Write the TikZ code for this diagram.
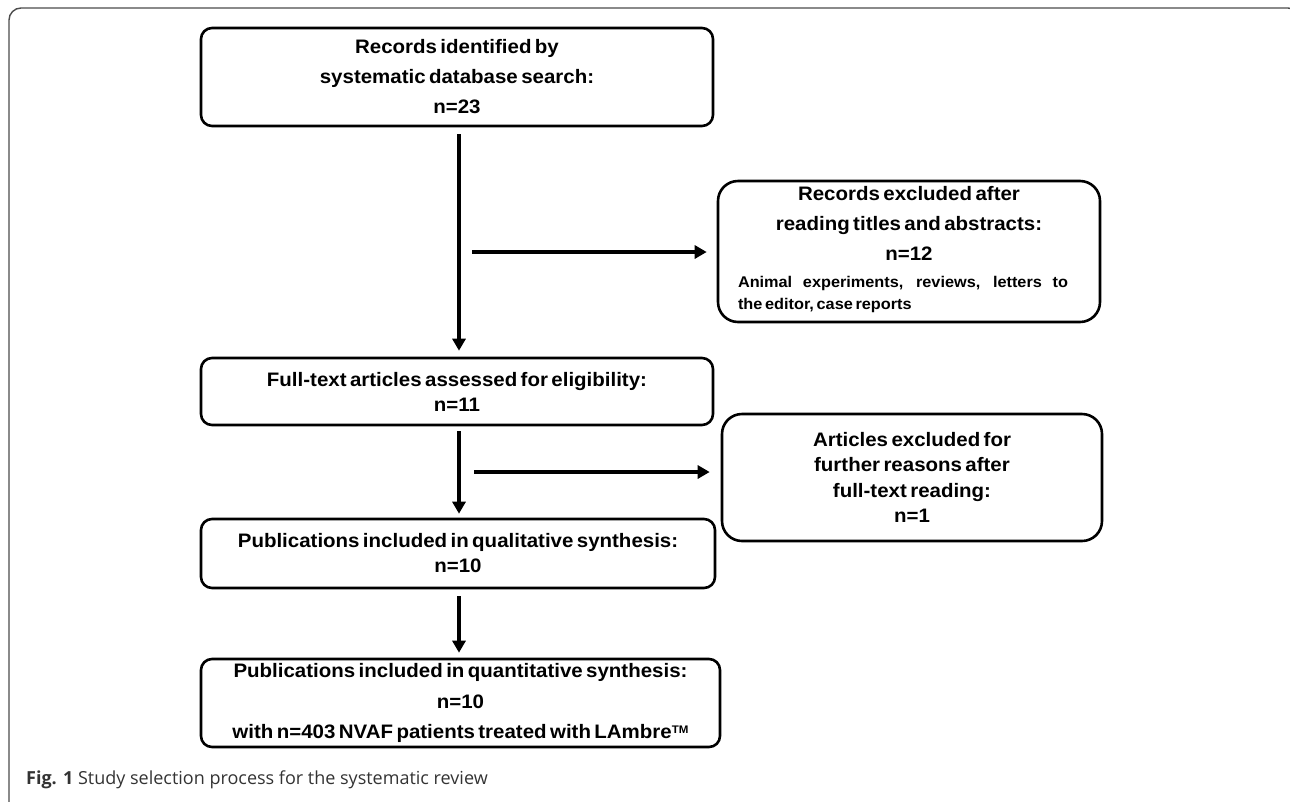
\documentclass[tikz,border=0pt]{standalone}
\usepackage{fontspec}
\setmainfont{Liberation Sans}
\newfontfamily\boxfont[FakeStretch=1.05,WordSpace=0.6]{Liberation Sans}
\newfontfamily\capfont{Open Sans}
\usetikzlibrary{arrows.meta}
\begin{document}
\begin{tikzpicture}[x=1pt,y=-1pt,
  box/.style={draw=black, line width=2.6pt, rounded corners=11pt, align=center, inner sep=0pt, fill=white},
  sidebox/.style={box, rounded corners=20pt},
  arr/.style={line width=3.8pt, -{Triangle[length=12pt,width=13pt]}},
  frame/.style={draw=black!70, line width=1.4pt, rounded corners=12pt},
  big/.style={font=\boxfont\bfseries\fontsize{19.5}{#1}\selectfont},
]
\useasboundingbox (0,0) rectangle (1290,801);
\draw[frame] (9,805) -- (9,8) -- (1300,8) -- (1300,805);

\node[box, big=30, minimum width=512pt, minimum height=98pt] (top) at (457,77)
  {Records identified by\\systematic database search:\\n=23};
\node[sidebox, big=30, minimum width=382pt, minimum height=141pt] (ex1) at (909,251.5)
  {Records excluded after\\reading titles and abstracts:\\n=12\\[-3pt]%
   {\fontsize{15.5}{22}\selectfont\hspace*{-12pt}\begin{tabular}[t]{@{}l@{}}\makebox[330pt][s]{Animal experiments, reviews, letters to}\\the editor, case reports\end{tabular}}};
\node[box, big=25, minimum width=512pt, minimum height=67pt] (full) at (457,391.5)
  {Full-text articles assessed for eligibility:\\n=11};
\node[sidebox, big=25.5, minimum width=380pt, minimum height=127pt] (ex2) at (912,477.5)
  {Articles excluded for\\further reasons after\\full-text reading:\\n=1};
\node[box, big=25, minimum width=514pt, minimum height=69pt] (qual) at (458,553.5)
  {Publications included in qualitative synthesis:\\n=10};
\node[box, big=30.5, minimum width=519pt, minimum height=88pt] (quant) at (460.5,703)
  {Publications included in quantitative synthesis:\\n=10\\with n=403 NVAF patients treated with LAmbre\raisebox{0.5ex}{\fontsize{11}{11}\selectfont TM}};

\coordinate (h1) at (472,252);
\coordinate (h2) at (474,472);
\draw[arr] ([xshift=2pt,yshift=-7pt]top.south) -- ([xshift=2pt,yshift=6pt]full.north);
\draw[arr] (h1) -- ([xshift=-10pt]h1 -| ex1.west);
\draw[arr] ([xshift=2pt,yshift=-5pt]full.south) -- ([xshift=1pt,yshift=4pt]qual.north);
\draw[arr] (h2) -- ([xshift=-11pt]h2 -| ex2.west);
\draw[arr] ([xshift=1pt,yshift=-7pt]qual.south) -- ([xshift=-1.5pt,yshift=5pt]quant.north);

\node[anchor=base west, inner sep=0pt, text=black!80, font=\capfont\fontsize{18}{22}\selectfont] (cap) at (26,784)
  {\textbf{Fig. 1} Study selection process for the systematic review};
\end{tikzpicture}
\end{document}
